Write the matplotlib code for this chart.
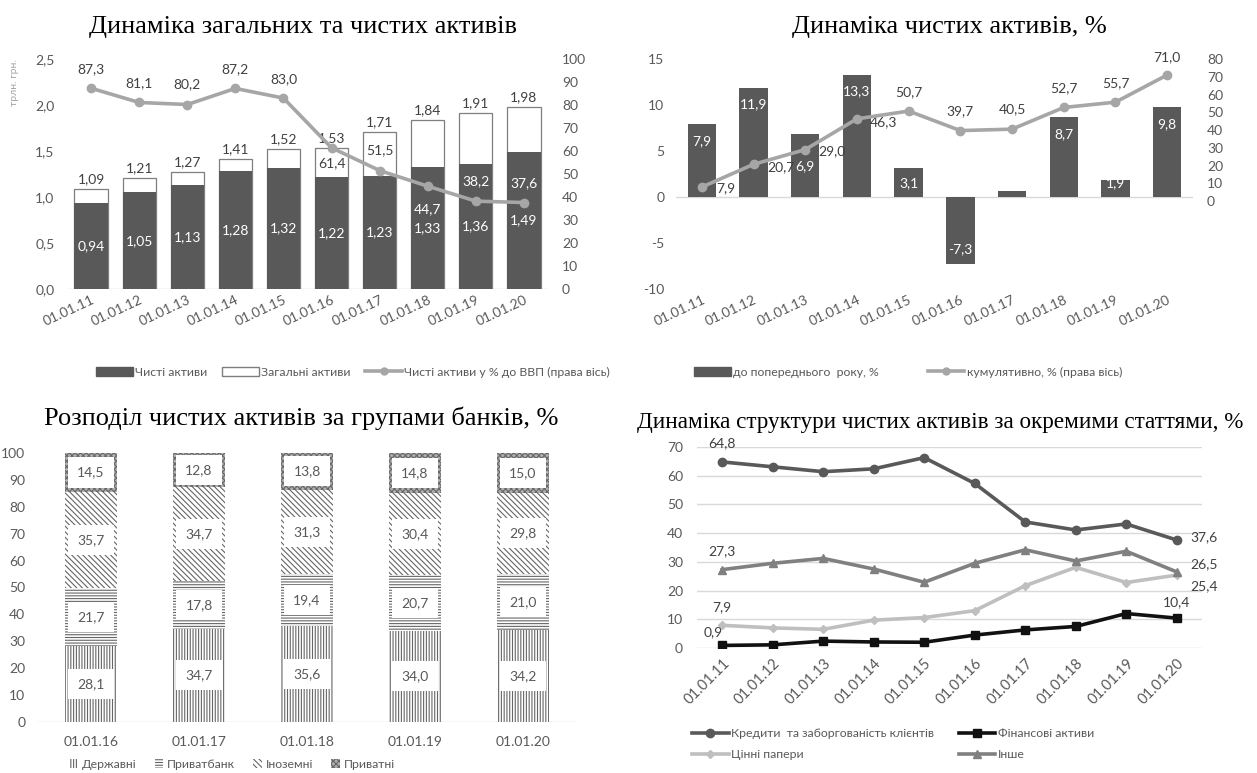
import matplotlib
matplotlib.use("Agg")
import matplotlib.pyplot as plt
from matplotlib.patches import Patch
from matplotlib.lines import Line2D

plt.rcParams['font.family'] = ['Lato', 'DejaVu Sans']
plt.rcParams['hatch.linewidth'] = 0.8
plt.rcParams['axes.unicode_minus'] = False

# --- data -------------------------------------------------------------
dates = ['01.01.11', '01.01.12', '01.01.13', '01.01.14', '01.01.15',
         '01.01.16', '01.01.17', '01.01.18', '01.01.19', '01.01.20']

net_assets = [0.94, 1.05, 1.13, 1.28, 1.32, 1.22, 1.23, 1.33, 1.36, 1.49]
total_assets = [1.09, 1.21, 1.27, 1.41, 1.52, 1.53, 1.71, 1.84, 1.91, 1.98]
net_to_gdp = [87.3, 81.1, 80.2, 87.2, 83.0, 61.4, 51.5, 44.7, 38.2, 37.6]

yoy_growth = [7.9, 11.9, 6.9, 13.3, 3.1, -7.3, 0.6, 8.7, 1.9, 9.8]
yoy_labeled = [True, True, True, True, True, True, False, True, True, True]
cum_growth = [7.9, 20.7, 29.0, 46.3, 50.7, 39.7, 40.5, 52.7, 55.7, 71.0]

group_dates = ['01.01.16', '01.01.17', '01.01.18', '01.01.19', '01.01.20']
state_banks = [28.1, 34.7, 35.6, 34.0, 34.2]
privatbank = [21.7, 17.8, 19.4, 20.7, 21.0]
foreign_banks = [35.7, 34.7, 31.3, 30.4, 29.8]
private_banks = [14.5, 12.8, 13.8, 14.8, 15.0]

loans = [64.8, 63.1, 61.4, 62.4, 66.3, 57.3, 43.9, 41.1, 43.2, 37.6]
fin_assets = [0.9, 1.1, 2.4, 2.1, 2.0, 4.5, 6.3, 7.5, 12.0, 10.4]
securities = [7.9, 7.0, 6.5, 9.7, 10.6, 13.0, 21.7, 28.1, 22.8, 25.4]
other = [27.3, 29.5, 31.2, 27.5, 22.9, 29.5, 34.2, 30.3, 33.7, 26.5]

TXT = '#595959'
LBL = '#404040'
DARK = '#595959'
LIGHT = '#a6a6a6'
SERIF = 'Liberation Serif'
TICK = 10
DLBL = 10
LEG = 8.8


def fmt(v, nd=1):
    return f'{v:.{nd}f}'.replace('.', ',')


def clean(ax, pad=9):
    for s in ax.spines.values():
        s.set_visible(False)
    ax.tick_params(length=0, colors=TXT, labelsize=TICK)
    ax.tick_params(axis='y', pad=pad)


fig = plt.figure(figsize=(12.57, 7.73), dpi=100)
W, H = 1257, 773


def rect(x0, y0, x1, y1):
    return [x0 / W, 1 - y1 / H, (x1 - x0) / W, (y1 - y0) / H]


# --- 1: total vs net assets -------------------------------------------
ax1 = fig.add_axes(rect(67, 59, 548, 289))
clean(ax1, pad=9)
x = range(len(dates))
ax1.bar(x, total_assets, width=0.69, color='white', edgecolor='#7f7f7f', linewidth=0.9, zorder=2)
ax1.bar(x, net_assets, width=0.69, color=DARK, zorder=3)
ax1.set_ylim(0, 2.5)
ax1.set_xlim(-0.5, len(dates) - 0.5)
ax1.set_yticks([0, 0.5, 1.0, 1.5, 2.0, 2.5])
ax1.set_yticklabels([fmt(v) for v in [0, 0.5, 1.0, 1.5, 2.0, 2.5]])
ax1.set_xticks(list(x))
ax1.set_xticklabels(dates, rotation=25, ha='right', rotation_mode='anchor')
ax1.axhline(0, color='#d9d9d9', lw=1, zorder=1)
for i in x:
    ax1.text(i, total_assets[i] + 0.04, fmt(total_assets[i], 2), ha='center', va='bottom',
             color=LBL, fontsize=DLBL, zorder=5)
    ax1.text(i, net_assets[i] / 2, fmt(net_assets[i], 2), ha='center', va='center',
             color='white', fontsize=DLBL, zorder=5)
ax1.text(-0.11, 1.0, 'трлн. грн.', rotation=90, ha='center', va='top', color=LIGHT,
         fontsize=7.5, transform=ax1.transAxes)

ax1r = ax1.twinx()
clean(ax1r, pad=10)
ax1r.plot(x, net_to_gdp, color=LIGHT, lw=2.6, marker='o', ms=6, zorder=4)
ax1r.set_ylim(0, 100)
ax1r.set_yticks(range(0, 101, 10))
gdp_dy = [19, 19, 20, 19, 19, -15, 20, -23, 20, 19]
px_per_unit = 230 / 100
for i in x:
    # labels that land on the dark part of a bar are drawn in white
    pos = net_to_gdp[i] + gdp_dy[i] / px_per_unit
    col = 'white' if pos < net_assets[i] * 40 else LBL
    ax1r.annotate(fmt(net_to_gdp[i]), (i, net_to_gdp[i]), xytext=(0, gdp_dy[i]),
                  textcoords='offset pixels', ha='center', va='center',
                  color=col, fontsize=DLBL)
ax1.set_title('Динаміка загальних та чистих активів', family=SERIF, fontsize=19,
              color='black', pad=19, x=0.49)

fig.legend(handles=[Patch(facecolor=DARK, edgecolor=DARK),
                    Patch(facecolor='white', edgecolor='#7f7f7f'),
                    Line2D([], [], color=LIGHT, lw=2.6, marker='o', ms=5)],
           labels=['Чисті активи', 'Загальні активи', 'Чисті активи у % до ВВП (права вісь)'],
           loc='center', bbox_to_anchor=(353 / W, 1 - 372 / H), ncol=3, frameon=False,
           fontsize=LEG, labelcolor=TXT, handlelength=3, handleheight=0.7,
           columnspacing=1.2, handletextpad=0.2)

# --- 2: growth of net assets -------------------------------------------
ax2 = fig.add_axes(rect(676, 59, 1193, 289))
clean(ax2, pad=8.5)
ax2.bar(x, yoy_growth, width=0.55, color=DARK, zorder=3)
ax2.set_ylim(-10, 15)
ax2.set_xlim(-0.5, len(dates) - 0.5)
ax2.set_yticks(range(-10, 16, 5))
ax2.set_xticks(list(x))
ax2.set_xticklabels(dates, rotation=25, ha='right', rotation_mode='anchor')
ax2.axhline(0, color='#d9d9d9', lw=1, zorder=1)
bar_dy = [-17, -17, -33, -17, -15, 15, 0, -17, -4, -17]
for i in x:
    if yoy_labeled[i]:
        ax2.annotate(fmt(yoy_growth[i]), (i, yoy_growth[i]), xytext=(0, bar_dy[i]),
                     textcoords='offset pixels', ha='center', va='center',
                     color='white', fontsize=DLBL, zorder=6)

ax2r = ax2.twinx()
clean(ax2r, pad=10)
ax2r.plot(x, cum_growth, color=LIGHT, lw=2.6, marker='o', ms=6, zorder=4)
ax2r.set_ylim(-49.5, 80)
ax2r.set_yticks(range(0, 81, 10))
cum_off = [(24, -1), (27, -3), (27, -2), (27, -3), (0, 19),
           (0, 19), (0, 20), (0, 19), (0, 19), (0, 18)]
for i in x:
    dx, dy = cum_off[i]
    ax2r.annotate(fmt(cum_growth[i]), (i, cum_growth[i]), xytext=(dx, dy),
                  textcoords='offset pixels', ha='center', va='center',
                  color=LBL, fontsize=DLBL)
ax2.set_title('Динаміка чистих активів, %', family=SERIF, fontsize=19,
              color='black', pad=19, x=0.528)

fig.legend(handles=[Patch(facecolor=DARK, edgecolor=DARK),
                    Line2D([], [], color=LIGHT, lw=2.6, marker='o', ms=5)],
           labels=['до попереднього  року, %', 'кумулятивно, % (права вісь)'],
           loc='center', bbox_to_anchor=(908 / W, 1 - 372 / H), ncol=2, frameon=False,
           fontsize=LEG, labelcolor=TXT, handlelength=3, handleheight=0.7,
           columnspacing=4, handletextpad=0.2)

# --- 3: distribution by bank groups ---------------------------------------
ax3 = fig.add_axes(rect(37, 453, 577, 722))
clean(ax3, pad=8.5)
gx = range(len(group_dates))
groups = [('Державні', state_banks, '||||||', 'white'),
          ('Приватбанк', privatbank, '------', 'white'),
          ('Іноземні', foreign_banks, '\\\\\\\\\\\\', 'white'),
          ('Приватні', private_banks, 'xxxxxx', '#b0b0b0')]
bottom = [0] * len(group_dates)
handles3 = []
for name, vals, hatch, fc in groups:
    ax3.bar(gx, vals, bottom=bottom, width=0.48, color=fc, edgecolor='#666666',
            hatch=hatch, linewidth=0, zorder=2)
    for i in gx:
        ax3.text(i, bottom[i] + vals[i] / 2, fmt(vals[i]), ha='center', va='center',
                 color=TXT, fontsize=DLBL, zorder=5,
                 bbox=dict(facecolor='white', edgecolor='none', pad=6.5))
    bottom = [b + v for b, v in zip(bottom, vals)]
    handles3.append(Patch(facecolor=fc, edgecolor='#666666', hatch=hatch, linewidth=0))
ax3.set_ylim(0, 100)
ax3.set_xlim(-0.5, len(group_dates) - 0.5)
ax3.set_yticks(range(0, 101, 10))
ax3.set_xticks(list(gx))
ax3.set_xticklabels(group_dates)
ax3.tick_params(axis='x', pad=10)
ax3.axhline(0, color='#d9d9d9', lw=1, zorder=1)
ax3.set_title('Розподіл чистих активів за групами банків, %', family=SERIF,
              fontsize=19, color='black', pad=20, x=0.489)
fig.legend(handles=handles3, labels=[g[0] for g in groups], loc='center',
           bbox_to_anchor=(232 / W, 1 - 764 / H), ncol=4, frameon=False, fontsize=LEG,
           labelcolor=TXT, handlelength=0.7, handleheight=0.7, columnspacing=1.5,
           handletextpad=0.3)

# --- 4: structure of net assets --------------------------------------------
ax4 = fig.add_axes(rect(697, 447, 1202, 648))
clean(ax4, pad=10)
ax4.set_ylim(0, 70)
ax4.set_xlim(-0.5, len(dates) - 0.5)
ax4.set_yticks(range(0, 71, 10))
ax4.yaxis.grid(True, color='#d9d9d9', lw=1)
ax4.set_axisbelow(True)
series4 = [('Кредити  та заборгованість клієнтів', loans, '#595959', 'o'),
           ('Цінні папери', securities, '#bfbfbf', 'D'),
           ('Фінансові активи', fin_assets, '#111111', 's'),
           ('Інше', other, '#808080', '^')]
handles4 = []
for name, vals, col, mk in series4:
    ln, = ax4.plot(x, vals, color=col, lw=2.6, marker=mk, ms=6 if mk != 'D' else 4.5,
                   zorder=3)
    handles4.append(ln)
ax4.set_xticks(list(x))
ax4.set_xticklabels(dates, rotation=45, ha='right', rotation_mode='anchor', fontsize=10.5)
ax4.tick_params(axis='x', pad=6)
end_labels = [(loans, 0, (0, 19)), (other, 0, (0, 18)), (securities, 0, (0, 18)),
              (fin_assets, 0, (-9, 13)), (loans, 9, (27, 3)), (other, 9, (27, 8)),
              (securities, 9, (27, -11)), (fin_assets, 9, (0, 16))]
for vals, i, (dx, dy) in end_labels:
    ax4.annotate(fmt(vals[i]), (i, vals[i]), xytext=(dx, dy), textcoords='offset pixels',
                 ha='center', va='center', color=LBL, fontsize=DLBL)
ax4.set_title('Динаміка структури чистих активів за окремими статтями, %', family=SERIF,
              fontsize=16.7, color='black', pad=14, x=0.481)
fig.legend(handles=handles4, labels=[s[0] for s in series4], loc='center',
           bbox_to_anchor=(893 / W, 1 - 744 / H), ncol=2, frameon=False, fontsize=LEG,
           labelcolor=TXT, handlelength=3, columnspacing=2.0, handletextpad=0.2,
           labelspacing=0.8)

fig.savefig('out.png', dpi=100, facecolor='white')
